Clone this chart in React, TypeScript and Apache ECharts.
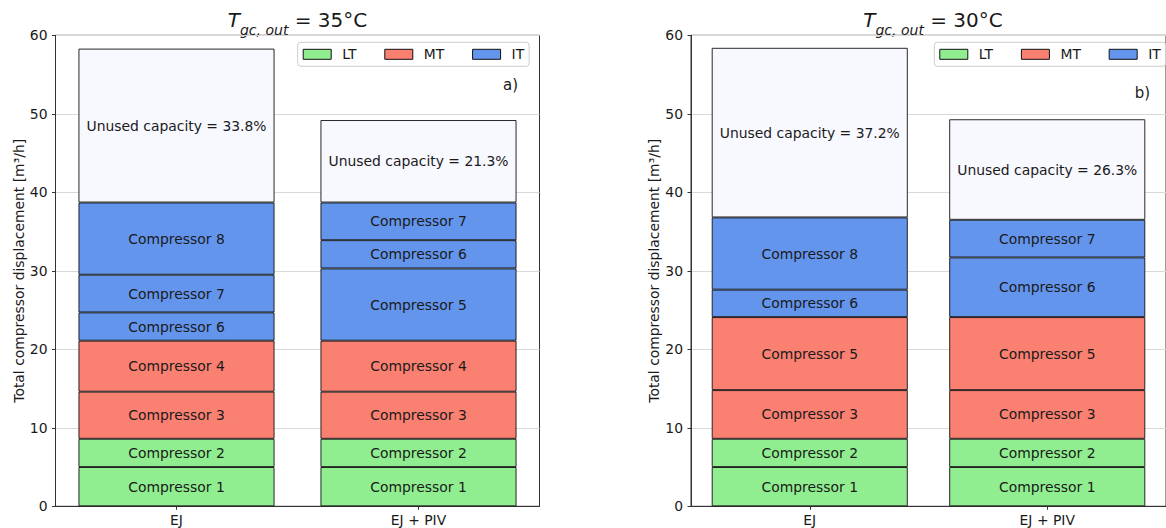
import React, { useEffect, useRef } from "react";
import * as echarts from "echarts";

// ---------- data ----------
const categories = ["EJ", "EJ + PIV"];
const legendNames = ["LT", "MT", "IT"];
const typeColors: Record<string, string> = {
  LT: "#90EE90",
  MT: "#FA8072",
  IT: "#6495ED",
  unused: "#F8F8FF",
};
const yTicks = [0, 10, 20, 30, 40, 50, 60];

// panel a) Tgc,out = 35 °C
const aEJNames = ["Compressor 1", "Compressor 2", "Compressor 3", "Compressor 4", "Compressor 6", "Compressor 7", "Compressor 8"];
const aEJTypes = ["LT", "LT", "MT", "MT", "IT", "IT", "IT"];
const aEJValues = [5.0, 3.6, 6.0, 6.5, 3.6, 4.8, 9.2];
const aEJUnused = 19.6;
const aEJUnusedPct = "33.8%";

const aPIVNames = ["Compressor 1", "Compressor 2", "Compressor 3", "Compressor 4", "Compressor 5", "Compressor 6", "Compressor 7"];
const aPIVTypes = ["LT", "LT", "MT", "MT", "IT", "IT", "IT"];
const aPIVValues = [5.0, 3.6, 6.0, 6.5, 9.2, 3.6, 4.8];
const aPIVUnused = 10.5;
const aPIVUnusedPct = "21.3%";

// panel b) Tgc,out = 30 °C
const bEJNames = ["Compressor 1", "Compressor 2", "Compressor 3", "Compressor 5", "Compressor 6", "Compressor 8"];
const bEJTypes = ["LT", "LT", "MT", "MT", "IT", "IT"];
const bEJValues = [5.0, 3.6, 6.2, 9.3, 3.5, 9.2];
const bEJUnused = 21.6;
const bEJUnusedPct = "37.2%";

const bPIVNames = ["Compressor 1", "Compressor 2", "Compressor 3", "Compressor 5", "Compressor 6", "Compressor 7"];
const bPIVTypes = ["LT", "LT", "MT", "MT", "IT", "IT"];
const bPIVValues = [5.0, 3.6, 6.2, 9.3, 7.6, 4.8];
const bPIVUnused = 12.8;
const bPIVUnusedPct = "26.3%";

const panelTitles = ["35°C", "30°C"];
const panelTags = ["a)", "b)"];

// ---------- layout / style ----------
const FONT = "DejaVu Sans";
const TXT = "#1a1a1a";
const FS = 13.9;
const BAR_W = 196;
const EDGE = "#111";

const grids = [
  { left: 55.5, top: 35.3, width: 484, height: 471 },
  { left: 691, top: 35.3, width: 485, height: 471 },
];

type Bar = { names: string[]; types: string[]; values: number[]; unused: number; pct: string };

const panels: Bar[][] = [
  [
    { names: aEJNames, types: aEJTypes, values: aEJValues, unused: aEJUnused, pct: aEJUnusedPct },
    { names: aPIVNames, types: aPIVTypes, values: aPIVValues, unused: aPIVUnused, pct: aPIVUnusedPct },
  ],
  [
    { names: bEJNames, types: bEJTypes, values: bEJValues, unused: bEJUnused, pct: bEJUnusedPct },
    { names: bPIVNames, types: bPIVTypes, values: bPIVValues, unused: bPIVUnused, pct: bPIVUnusedPct },
  ],
];

function buildPanelSeries(pi: number, bars: Bar[]) {
  const n = Math.max(...bars.map((b) => b.values.length + 1));
  const out: any[] = [];
  for (let k = 0; k < n; k++) {
    const data = bars.map((b) => {
      if (k < b.values.length) {
        return {
          value: b.values[k],
          itemStyle: { color: typeColors[b.types[k]] },
          label: { formatter: b.names[k] },
        };
      }
      if (k === b.values.length) {
        return {
          value: b.unused,
          itemStyle: { color: typeColors.unused },
          label: { formatter: "Unused capacity = " + b.pct },
        };
      }
      return { value: "-" };
    });
    out.push({
      type: "bar",
      stack: "s" + pi,
      xAxisIndex: pi,
      yAxisIndex: pi,
      barWidth: BAR_W,
      itemStyle: { borderColor: EDGE, borderWidth: 0.9 },
      label: {
        show: true,
        position: "inside",
        color: TXT,
        fontFamily: FONT,
        fontSize: FS,
      },
      emphasis: { disabled: true },
      data,
    });
  }
  return out;
}

export default function App() {
  const ref = useRef<HTMLDivElement>(null);

  useEffect(() => {
    if (!ref.current) return;
    const chart = echarts.init(ref.current, undefined, { renderer: "svg" });

    const series: any[] = [];
    panels.forEach((bars, pi) => series.push(...buildPanelSeries(pi, bars)));
    // legend entries
    legendNames.forEach((nm) => {
      series.push({
        type: "bar",
        name: nm,
        stack: "s0",
        xAxisIndex: 0,
        yAxisIndex: 0,
        barWidth: BAR_W,
        itemStyle: { color: typeColors[nm], borderColor: EDGE, borderWidth: 1 },
        data: [],
      });
    });

    const legendLefts = [297.7, 934.3];
    const tagPos = [
      [510.5, 85],
      [1142.5, 93],
    ];

    const option: any = {
      animation: false,
      textStyle: { fontFamily: FONT },
      grid: grids.map((g) => ({
        ...g,
        show: true,
        borderColor: "#333",
        borderWidth: 1,
        backgroundColor: "transparent",
        containLabel: false,
      })),
      xAxis: grids.map((_, i) => ({
        type: "category",
        gridIndex: i,
        data: categories,
        axisLine: { show: true, lineStyle: { color: "#333", width: 1 } },
        axisTick: { show: true, alignWithLabel: true, length: 3.5, lineStyle: { color: "#333" } },
        axisLabel: { color: TXT, fontSize: FS, fontFamily: FONT, margin: 7 },
        splitLine: { show: false },
      })),
      yAxis: grids.map((_, i) => ({
        type: "value",
        gridIndex: i,
        min: yTicks[0],
        max: yTicks[yTicks.length - 1],
        interval: 10,
        name: "Total compressor displacement [m³/h]",
        nameLocation: "middle",
        nameGap: 30,
        nameTextStyle: { color: TXT, fontSize: FS, fontFamily: FONT },
        axisLine: { show: true, lineStyle: { color: "#333", width: 1 } },
        axisTick: { show: true, length: 3.5, lineStyle: { color: "#333" } },
        axisLabel: { color: TXT, fontSize: FS, fontFamily: FONT, margin: 8 },
        splitLine: { show: true, lineStyle: { color: "#d9d9d9", width: 1 } },
      })),
      legend: legendLefts.map((lx) => ({
        data: legendNames,
        left: lx,
        top: 42.3,
        orient: "horizontal",
        icon: "rect",
        itemWidth: 28,
        itemHeight: 10,
        itemGap: 27.8,
        selectedMode: false,
        padding: [4, 5, 4, 5],
        backgroundColor: "rgba(255,255,255,0.8)",
        borderColor: "#cccccc",
        borderWidth: 1,
        borderRadius: 3,
        itemStyle: { borderColor: EDGE, borderWidth: 1 },
        textStyle: {
          color: TXT,
          fontSize: FS,
          fontFamily: FONT,
          lineHeight: 16,
          padding: [0, 0, 0, 6],
        },
      })),
      graphic: [
        ...grids.map((g, i) => ({
          type: "text",
          x: g.left + 242,
          y: 19.5,
          silent: true,
          style: {
            text: "{t|T}{s|gc, out}{n| = " + panelTitles[i] + "}",
            align: "center",
            verticalAlign: "middle",
            fill: TXT,
            rich: {
              t: { fontSize: 20, fontStyle: "italic", fontFamily: FONT, lineHeight: 34, verticalAlign: "middle", fill: TXT },
              s: { fontSize: 14, fontStyle: "italic", fontFamily: FONT, lineHeight: 23, verticalAlign: "bottom", fill: TXT },
              n: { fontSize: 20, fontFamily: FONT, lineHeight: 34, verticalAlign: "middle", fill: TXT },
            },
          },
        })),
        ...panelTags.map((tg, i) => ({
          type: "text",
          x: tagPos[i][0],
          y: tagPos[i][1],
          silent: true,
          style: {
            text: tg,
            align: "center",
            verticalAlign: "middle",
            fontSize: 15,
            fontFamily: FONT,
            fill: TXT,
          },
        })),
      ],
      series,
    };

    chart.setOption(option);
    return () => chart.dispose();
  }, []);

  return (
    <div
      ref={ref}
      style={{ position: "absolute", left: 0, top: 0, width: 1166, height: 528 }}
    />
  );
}
